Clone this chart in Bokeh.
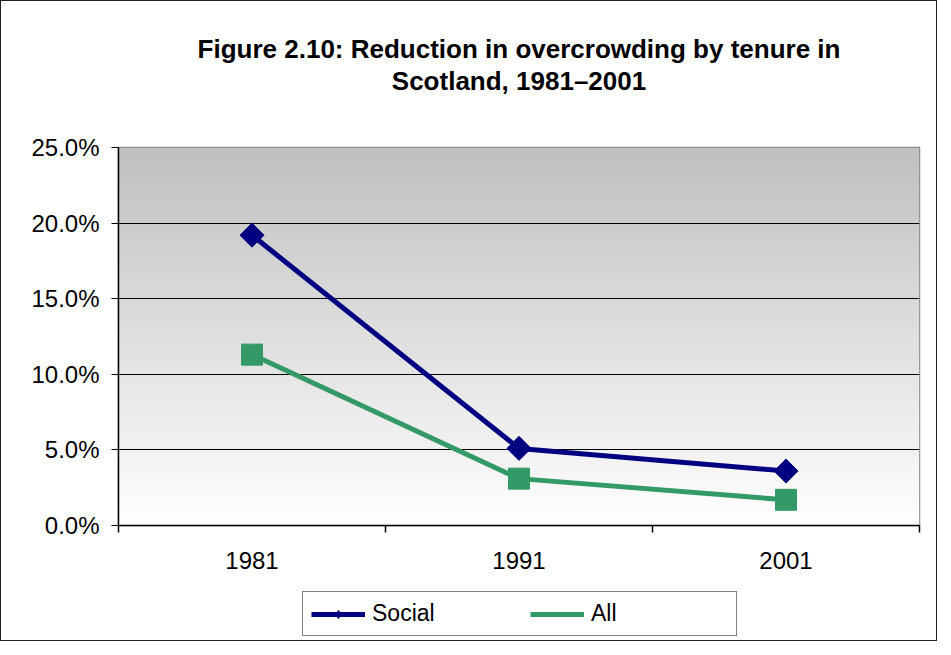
import numpy as np
from bokeh.plotting import figure
from bokeh.layouts import column
from bokeh.models import (Range1d, FixedTicker, NumeralTickFormatter, Legend, LegendItem, Title)
from bokeh.embed import file_html
from bokeh.resources import INLINE

# ---- data ----
years = ["1981", "1991", "2001"]
social = [0.192, 0.051, 0.036]
all_tenures = [0.113, 0.031, 0.017]
y_ticks = [0.0, 0.05, 0.10, 0.15, 0.20, 0.25]
series_labels = ["Social", "All"]
title_lines = ["Figure 2.10: Reduction in overcrowding by tenure in",
               "Scotland, 1981\u20132001"]

FONT = "Liberation Sans"
NAVY = "#000080"
GREEN = "#339966"

# category slots: each year occupies one unit, point at slot centre
x_pos = [i + 0.5 for i in range(len(years))]
x_bounds = list(range(len(years) + 1))

p = figure(frame_width=801, frame_height=378,
           x_range=Range1d(0, len(years)),
           y_range=Range1d(y_ticks[0], y_ticks[-1]),
           title=None, toolbar_location=None, output_backend="svg",
           min_border_left=117, min_border_right=17,
           min_border_top=146, min_border_bottom=62)

p.background_fill_color = "white"
p.border_fill_color = "white"
p.outline_line_color = "#808080"
p.outline_line_width = 1.5

# ---- gradient background (style only) ----
n = 256
t = np.linspace(0.0, 1.0, n)
top_c = np.array([192, 192, 192], dtype=float)
bot_c = np.array([255, 255, 255], dtype=float)
cols = (bot_c[None, :] * (1 - t[:, None]) + top_c[None, :] * t[:, None]).astype(np.uint8)
img = np.zeros((n, 1), dtype=np.uint32)
view = img.view(dtype=np.uint8).reshape((n, 1, 4))
view[:, 0, 0] = cols[:, 0]
view[:, 0, 1] = cols[:, 1]
view[:, 0, 2] = cols[:, 2]
view[:, 0, 3] = 255
p.image_rgba(image=[img], x=x_bounds[0], y=y_ticks[0], dw=x_bounds[-1] - x_bounds[0],
             dh=y_ticks[-1] - y_ticks[0], level="image")

# ---- grid ----
p.ygrid.grid_line_color = "black"
p.ygrid.grid_line_width = 1
p.xgrid.visible = False

# ---- y axis ----
yax = p.yaxis[0]
yax.ticker = FixedTicker(ticks=y_ticks, minor_ticks=[])
yax.formatter = NumeralTickFormatter(format="0.0%")
yax.major_tick_out = 7
yax.major_tick_in = 0
yax.minor_tick_out = 0
yax.minor_tick_in = 0
yax.axis_line_color = "black"
yax.axis_line_width = 1.5
yax.major_tick_line_color = "black"
yax.major_label_standoff = 12
yax.major_label_text_font = FONT
yax.major_label_text_font_size = "24px"
yax.major_label_text_color = "black"

# ---- x axis: labels at slot centres, tick marks at slot boundaries ----
xax = p.xaxis[0]
xax.ticker = FixedTicker(ticks=x_pos, minor_ticks=x_bounds)
xax.major_label_overrides = {xp: yr for xp, yr in zip(x_pos, years)}
xax.major_tick_out = 0
xax.major_tick_in = 0
xax.minor_tick_out = 7
xax.minor_tick_in = 0
xax.minor_tick_line_color = "black"
xax.minor_tick_line_width = 1.5
xax.axis_line_color = "black"
xax.axis_line_width = 1.5
xax.major_label_standoff = 19
xax.major_label_text_font = FONT
xax.major_label_text_font_size = "24px"
xax.major_label_text_color = "black"

# ---- series ----
p.line(x_pos, social, line_color=NAVY, line_width=5)
p.line(x_pos, all_tenures, line_color=GREEN, line_width=5)
p.scatter(x_pos, social, marker="square", angle=np.pi / 4, size=17,
          fill_color=NAVY, line_color=NAVY)
p.scatter(x_pos, all_tenures, marker="square", size=21,
          fill_color=GREEN, line_color=GREEN)

# ---- title (spacer keeps the gap above the plot area) ----
p.add_layout(Title(text=" ", text_font_size="1px", standoff=49), "above")
p.add_layout(Title(text=title_lines[1], align="center", text_font=FONT,
                   text_font_size="26px", text_font_style="bold",
                   text_color="black", standoff=0), "above")
p.add_layout(Title(text=title_lines[0], align="center", text_font=FONT,
                   text_font_size="26px", text_font_style="bold",
                   text_color="black", standoff=0), "above")

# ---- legend strip below the chart ----
pl = figure(width=935, height=53, x_range=Range1d(100, 101), y_range=Range1d(100, 101),
            x_axis_location=None, y_axis_location=None, title=None,
            toolbar_location=None, output_backend="svg", min_border=0)
pl.outline_line_color = None
pl.grid.visible = False
pl.background_fill_color = "white"
pl.border_fill_color = "white"
# same series (out of view) so the legend can show their styles
l_soc_line = pl.line(x_pos, social, line_color=NAVY, line_width=5)
l_soc_pts = pl.scatter(x_pos, social, marker="diamond", size=16,
                       fill_color=NAVY, line_color=NAVY)
l_all_line = pl.line(x_pos, all_tenures, line_color=GREEN, line_width=5)

legend = Legend(items=[LegendItem(label=series_labels[0], renderers=[l_soc_line, l_soc_pts]),
                       LegendItem(label=series_labels[1], renderers=[l_all_line])],
                orientation="horizontal", location=(184, 4),
                padding=8, spacing=21, margin=0,
                glyph_width=54, glyph_height=20, label_standoff=7, label_width=137,
                label_text_font=FONT, label_text_font_size="23px", label_text_color="black",
                border_line_color="black", border_line_width=1,
                background_fill_color="white", background_fill_alpha=1.0)
pl.add_layout(legend, "center")

layout = column(p, pl, spacing=0, styles={"border": "1px solid #222222"})

open("out.html", "w").write(file_html(layout, INLINE))
